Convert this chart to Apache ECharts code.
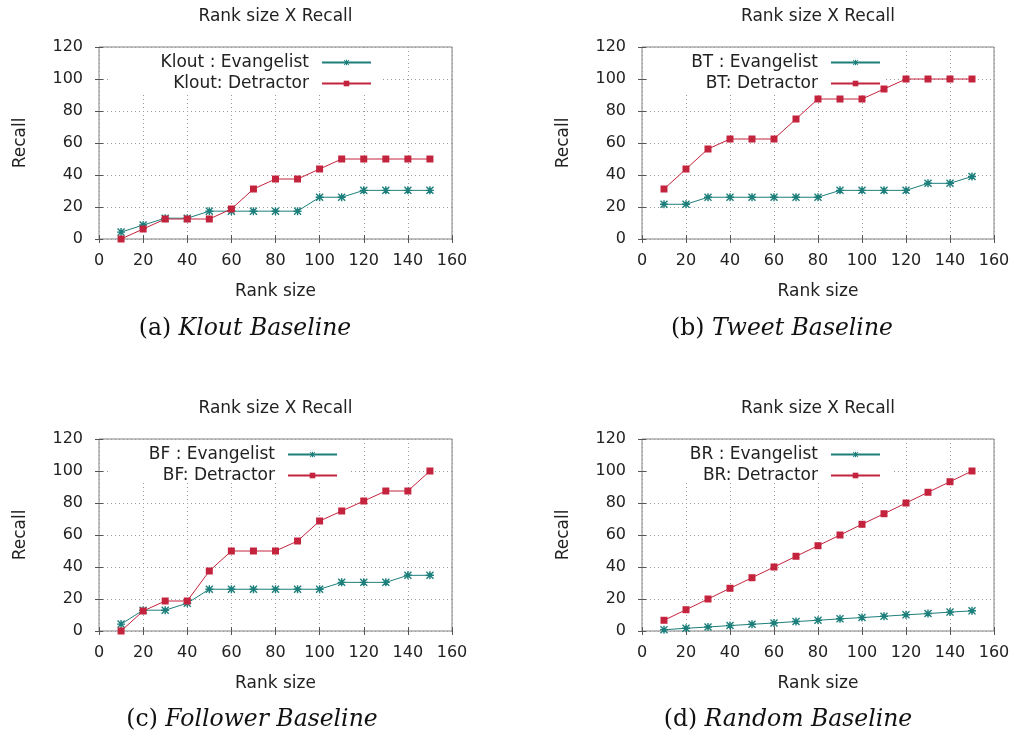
<!DOCTYPE html>
<html>
<head>
<meta charset="utf-8">
<script src="https://cdn.jsdelivr.net/npm/echarts@6/dist/echarts.min.js"></script>
<style>html,body{margin:0;padding:0;background:#fff;}#c{width:1014px;height:738px;}</style>
</head>
<body>
<div id="c"></div>
<script>
// ---- data ----
var rankSizes = [10, 20, 30, 40, 50, 60, 70, 80, 90, 100, 110, 120, 130, 140, 150];
var xTicks = [0, 20, 40, 60, 80, 100, 120, 140, 160];
var yTicks = [0, 20, 40, 60, 80, 100, 120];

var kloutEvangelist = [4.3, 8.7, 13.0, 13.0, 17.4, 17.4, 17.4, 17.4, 17.4, 26.1, 26.1, 30.4, 30.4, 30.4, 30.4];
var kloutDetractor  = [0, 6.25, 12.5, 12.5, 12.5, 18.75, 31.25, 37.5, 37.5, 43.75, 50, 50, 50, 50, 50];
var btEvangelist    = [21.7, 21.7, 26.1, 26.1, 26.1, 26.1, 26.1, 26.1, 30.4, 30.4, 30.4, 30.4, 34.8, 34.8, 39.1];
var btDetractor     = [31.25, 43.75, 56.25, 62.5, 62.5, 62.5, 75, 87.5, 87.5, 87.5, 93.75, 100, 100, 100, 100];
var bfEvangelist    = [4.3, 13.0, 13.0, 17.4, 26.1, 26.1, 26.1, 26.1, 26.1, 26.1, 30.4, 30.4, 30.4, 34.8, 34.8];
var bfDetractor     = [0, 12.5, 18.75, 18.75, 37.5, 50, 50, 50, 56.25, 68.75, 75, 81.25, 87.5, 87.5, 100];
var brEvangelist    = [0.8, 1.7, 2.5, 3.4, 4.2, 5.0, 5.9, 6.7, 7.6, 8.4, 9.2, 10.1, 10.9, 11.8, 12.6];
var brDetractor     = [6.7, 13.3, 20.0, 26.7, 33.3, 40.0, 46.7, 53.3, 60.0, 66.7, 73.3, 80.0, 86.7, 93.3, 100];

var titleText = 'Rank size X Recall';
var xName = 'Rank size';
var yName = 'Recall';
var evNames = ['Klout : Evangelist', 'BT : Evangelist', 'BF : Evangelist', 'BR : Evangelist'];
var deNames = ['Klout: Detractor', 'BT: Detractor', 'BF: Detractor', 'BR: Detractor'];
var capLetters = ['(a)', '(b)', '(c)', '(d)'];
var capTexts = ['Klout Baseline', 'Tweet Baseline', 'Follower Baseline', 'Random Baseline'];
var evData = [kloutEvangelist, btEvangelist, bfEvangelist, brEvangelist];
var deData = [kloutDetractor, btDetractor, bfDetractor, brDetractor];

// ---- layout ----
var layout = [
  {left: 99,  top: 47,  width: 353, height: 192, titleY: 8,   capX: 245, capY: 317, legRight: 642, legTop: 54,  box: [108, 48, 274, 44]},
  {left: 642, top: 47,  width: 352, height: 192, titleY: 8,   capX: 782, capY: 317, legRight: 133, legTop: 54,  box: [650, 48, 235, 44]},
  {left: 99,  top: 439, width: 353, height: 192, titleY: 400, capX: 252, capY: 708, legRight: 676, legTop: 446, box: [108, 440, 241, 42]},
  {left: 642, top: 439, width: 352, height: 192, titleY: 400, capX: 788, capY: 708, legRight: 133, legTop: 446, box: [650, 440, 241, 42]}
];

var SANS = 'DejaVu Sans';
var TEAL = '#1d7f7b';
var RED = '#c4233d';
var GRAYB = '#808080';
var CAP = 23.5;
var STAR = 'path://M4.1,0h1.8v10h-1.8z M0,4.1h10v1.8h-10z M1.2,0.0 L5,3.7 L8.8,0.0 L10,1.2 L6.3,5 L10,8.8 L8.8,10 L5,6.3 L1.2,10 L0,8.8 L3.7,5 L0,1.2z';

function pairs(vals) {
  return rankSizes.map(function (x, i) { return [x, vals[i]]; });
}

var grids = [], xAxes = [], yAxes = [], series = [], legends = [], titles = [], graphics = [];
layout.forEach(function (L, i) {
  grids.push({left: L.left, top: L.top, width: L.width, height: L.height, show: true,
    borderColor: GRAYB, borderWidth: 1, backgroundColor: 'transparent'});
  var xIdx = xAxes.length, yIdx = yAxes.length;
  xAxes.push({type: 'value', gridIndex: i, min: xTicks[0], max: xTicks[xTicks.length - 1], interval: xTicks[1] - xTicks[0],
    position: 'bottom', z: 0,
    name: xName, nameLocation: 'middle', nameGap: 44,
    nameTextStyle: {fontFamily: SANS, fontSize: 17, color: '#222'},
    axisLine: {show: false},
    axisTick: {show: true, inside: true, length: 4, lineStyle: {color: '#555'}},
    axisLabel: {show: true, margin: 14, fontFamily: SANS, fontSize: 16, color: '#222'},
    splitLine: {show: true, lineStyle: {color: '#9a9a9a', type: [1, 3], width: 1}}});
  xAxes.push({type: 'value', gridIndex: i, min: xTicks[0], max: xTicks[xTicks.length - 1], interval: xTicks[1] - xTicks[0],
    position: 'top', z: 3,
    axisLine: {show: false}, axisLabel: {show: false}, splitLine: {show: false},
    axisTick: {show: true, inside: true, length: 4, lineStyle: {color: '#555'}}});
  yAxes.push({type: 'value', gridIndex: i, min: yTicks[0], max: yTicks[yTicks.length - 1], interval: yTicks[1] - yTicks[0],
    position: 'left', z: 0,
    name: yName, nameLocation: 'middle', nameGap: 70,
    nameTextStyle: {fontFamily: SANS, fontSize: 17, color: '#222'},
    axisLine: {show: false},
    axisTick: {show: true, inside: true, length: 4, lineStyle: {color: '#555'}},
    axisLabel: {show: true, margin: 16, fontFamily: SANS, fontSize: 16, color: '#222'},
    splitLine: {show: true, lineStyle: {color: '#9a9a9a', type: [1, 3], width: 1}}});
  yAxes.push({type: 'value', gridIndex: i, min: yTicks[0], max: yTicks[yTicks.length - 1], interval: yTicks[1] - yTicks[0],
    position: 'right', z: 3,
    axisLine: {show: false}, axisLabel: {show: false}, splitLine: {show: false},
    axisTick: {show: true, inside: true, length: 4, lineStyle: {color: '#555'}}});

  series.push({type: 'line', name: evNames[i], xAxisIndex: xIdx, yAxisIndex: yIdx, data: pairs(evData[i]),
    symbol: STAR, symbolSize: 8, showAllSymbol: true, animation: false, z: 3,
    lineStyle: {color: TEAL, width: 1}, itemStyle: {color: TEAL}});
  series.push({type: 'line', name: deNames[i], xAxisIndex: xIdx, yAxisIndex: yIdx, data: pairs(deData[i]),
    symbol: 'rect', symbolSize: 7, showAllSymbol: true, animation: false, z: 4,
    lineStyle: {color: RED, width: 1}, itemStyle: {color: RED}});

  [evNames[i], deNames[i]].forEach(function (nm, k) {
    legends.push({show: true, data: [nm], orient: 'horizontal', align: 'right', selectedMode: false,
      right: L.legRight, top: L.legTop + k * 21, padding: 0, itemGap: 0, itemWidth: 49, itemHeight: 7,
      textStyle: {fontFamily: SANS, fontSize: 17, color: '#222', padding: [0, 8, 0, 0]}});
  });

  titles.push({text: titleText, left: L.left + L.width / 2, top: L.titleY, textAlign: 'center', padding: 0,
    textStyle: {fontFamily: SANS, fontSize: 17, fontWeight: 'normal', color: '#222'}});
  titles.push({text: '{n|' + capLetters[i] + '} {i|' + capTexts[i] + '}', left: L.capX, top: L.capY, textAlign: 'center', padding: 0,
    textStyle: {fontSize: CAP, fontWeight: 'normal', fontFamily: 'DejaVu Serif', rich: {
      n: {fontFamily: 'DejaVu Serif', fontWeight: 'normal', fontSize: CAP, color: '#111'},
      i: {fontFamily: 'DejaVu Serif', fontWeight: 'normal', fontStyle: 'italic', fontSize: CAP, color: '#111'}}}});

  graphics.push({type: 'rect', z: 1, silent: true,
    shape: {x: L.box[0], y: L.box[1], width: L.box[2], height: L.box[3]},
    style: {fill: '#ffffff'}});
});

var chart = echarts.init(document.getElementById('c'), null, {renderer: 'canvas'});
chart.setOption({
  backgroundColor: '#ffffff',
  animation: false,
  title: titles,
  grid: grids,
  xAxis: xAxes,
  yAxis: yAxes,
  legend: legends,
  graphic: {elements: graphics},
  series: series
});
</script>
</body>
</html>
